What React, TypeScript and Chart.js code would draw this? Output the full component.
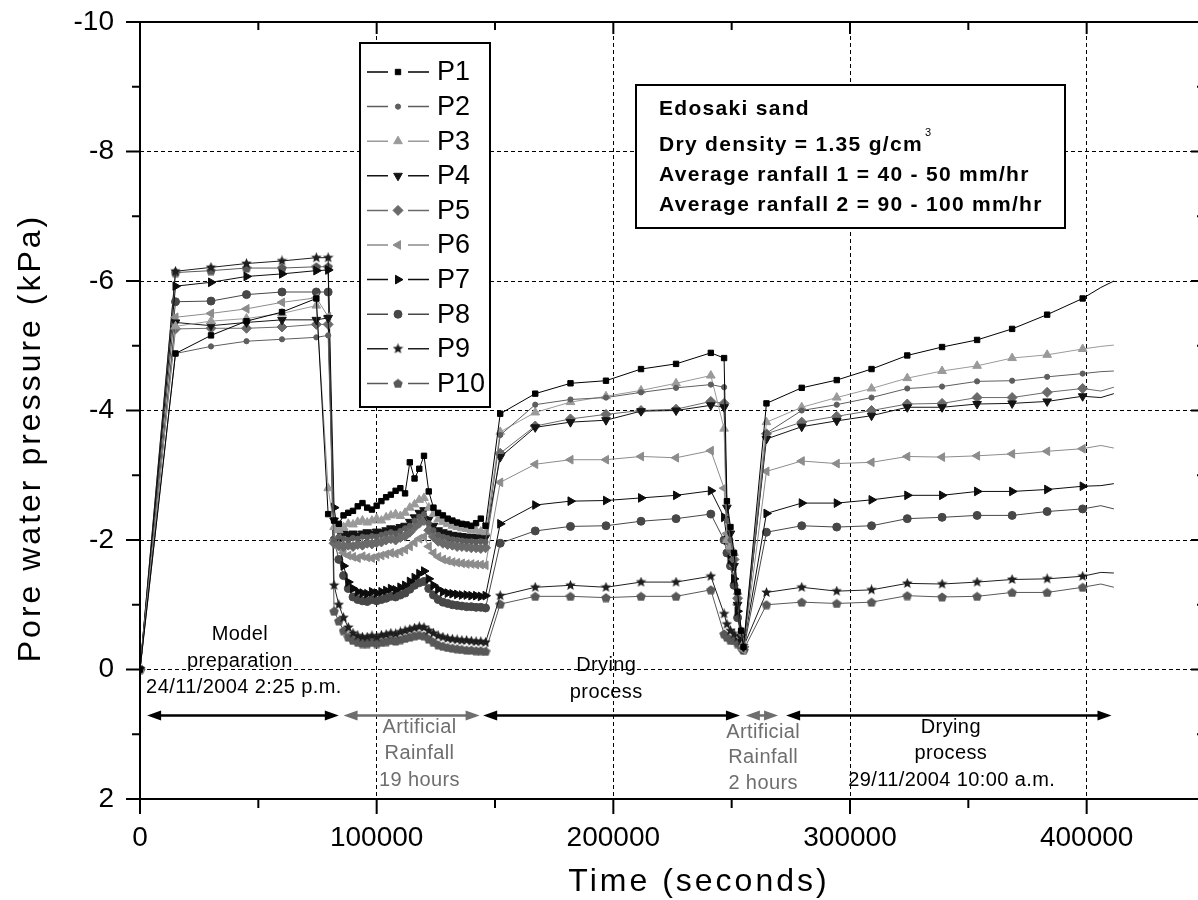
import React, { useEffect, useRef } from 'react';
import { Chart, registerables } from 'chart.js';
import { drawPoint } from 'chart.js/helpers';

Chart.register(...registerables);

// ---------- time stamps (seconds) ----------
const T_PREP = [0, 15000, 30000, 45000, 60000, 74500, 79500];
const T_RAIN1 = [82000, 84000, 86000, 88000, 90000, 92000, 94000, 96000, 98000, 100000, 102000, 104000, 106000, 108000, 110000, 112000, 114000, 116000, 118000, 120000, 122000, 124000, 126000, 128000, 130000, 132000, 134000, 136000, 138000, 140000, 142000, 144000, 146000];
const T_DRY1 = [152200, 167000, 181900, 196900, 211700, 226500, 241200, 246800];
const T_RAIN2 = [248000, 249500, 251000, 252500, 254000, 255000];
const T_DRY2 = [264700, 279600, 294400, 309100, 324200, 338900, 353700, 368500, 383300, 398300, 406000, 411500];
const TIME = [...T_PREP, ...T_RAIN1, ...T_DRY1, ...T_RAIN2, ...T_DRY2];
const TAIL_POINTS = 2; // last points drawn without symbols

// ---------- pore water pressure (kPa) ----------
const P1 = [
  0, -4.88, -5.16, -5.38, -5.52, -5.73, -2.4,
  -2.3, -2.25, -2.38, -2.42, -2.45, -2.52, -2.57, -2.5, -2.47, -2.53, -2.6, -2.66, -2.7, -2.76, -2.8, -2.72, -3.2, -2.95, -3.1, -3.3, -2.75, -2.5, -2.42, -2.38, -2.33, -2.3, -2.27, -2.25, -2.24, -2.22, -2.26, -2.33, -2.22,
  -3.95, -4.26, -4.42, -4.46, -4.64, -4.72, -4.89, -4.81,
  -2.6, -2.2, -1.8, -1.2, -0.6, -0.35,
  -4.11, -4.35, -4.47, -4.64, -4.85, -4.98, -5.09, -5.26, -5.48, -5.73, -5.9, -6.0,
];
const P2 = [
  0, -4.88, -4.99, -5.07, -5.1, -5.13, -5.16,
  -2.0, -2.05, -2.02, -2.0, -2.03, -2.02, -2.05, -2.04, -2.06, -2.05, -2.08, -2.1, -2.12, -2.1, -2.14, -2.18, -2.22, -2.3, -2.36, -2.4, -2.26, -2.15, -2.08, -2.05, -2.03, -2.01, -2.0, -1.99, -1.98, -1.98, -1.97, -1.98, -1.97,
  -3.62, -4.09, -4.17, -4.2, -4.28, -4.35, -4.4, -4.36,
  -2.3, -2.0, -1.7, -1.1, -0.55, -0.35,
  -3.65, -4.0, -4.09, -4.2, -4.34, -4.37, -4.45, -4.46, -4.52, -4.57, -4.6, -4.61,
];
const P3 = [
  0, -5.3, -5.38, -5.42, -5.5, -5.62, -2.8,
  -2.2, -2.15, -2.2, -2.25, -2.24, -2.28, -2.3, -2.27, -2.3, -2.33, -2.3, -2.35, -2.38, -2.4, -2.37, -2.42, -2.5, -2.55, -2.62, -2.65, -2.5, -2.4, -2.32, -2.28, -2.25, -2.22, -2.2, -2.18, -2.17, -2.15, -2.15, -2.13, -2.12,
  -3.67, -3.97, -4.13, -4.22, -4.31, -4.42, -4.54, -3.72,
  -2.0, -1.9, -1.8, -1.2, -0.6, -0.4,
  -3.82, -4.05, -4.2, -4.34, -4.5, -4.61, -4.69, -4.81, -4.86, -4.95, -4.99, -5.01,
];
const P4 = [
  0, -5.36, -5.31, -5.36, -5.4, -5.4, -5.43,
  -2.3, -2.15, -2.1, -2.08, -2.1, -2.07, -2.1, -2.12, -2.1, -2.13, -2.12, -2.15, -2.18, -2.17, -2.2, -2.22, -2.28, -2.35, -2.42, -2.46, -2.32, -2.22, -2.15, -2.12, -2.1, -2.08, -2.07, -2.06, -2.05, -2.05, -2.04, -2.05, -2.04,
  -3.28, -3.74, -3.82, -3.85, -3.99, -4.0, -4.08, -4.05,
  -2.5, -2.1, -1.6, -1.0, -0.5, -0.35,
  -3.56, -3.75, -3.84, -3.92, -4.05, -4.05, -4.1, -4.11, -4.14, -4.22, -4.2, -4.26,
];
const P5 = [
  0, -5.26, -5.27, -5.27, -5.29, -5.33, -5.33,
  -1.95, -1.92, -1.9, -1.92, -1.9, -1.93, -1.92, -1.95, -1.94, -1.96, -1.97, -2.0, -2.02, -2.0, -2.04, -2.06, -2.12, -2.2, -2.26, -2.3, -2.15, -2.05, -1.98, -1.95, -1.93, -1.92, -1.9, -1.9, -1.89, -1.88, -1.88, -1.87, -1.88,
  -3.34, -3.76, -3.87, -3.94, -4.0, -4.02, -4.14, -4.11,
  -2.0, -1.85, -1.7, -1.1, -0.55, -0.35,
  -3.64, -3.82, -3.91, -4.0, -4.1, -4.11, -4.2, -4.2, -4.28, -4.34, -4.3, -4.36,
];
const P6 = [
  0, -5.44, -5.5, -5.57, -5.67, -5.74, -5.45,
  -2.0, -1.88, -1.8, -1.76, -1.74, -1.72, -1.75, -1.73, -1.72, -1.74, -1.76, -1.78, -1.8, -1.79, -1.82, -1.85, -1.9, -1.96, -2.02, -2.05, -1.9, -1.8, -1.74, -1.7, -1.68, -1.66, -1.65, -1.64, -1.63, -1.63, -1.62, -1.62, -1.61,
  -2.89, -3.17, -3.24, -3.24, -3.29, -3.27, -3.38, -2.8,
  -2.1, -1.9, -1.6, -1.0, -0.5, -0.3,
  -3.06, -3.22, -3.18, -3.2, -3.29, -3.28, -3.3, -3.33, -3.37, -3.41, -3.46, -3.42,
];
const P7 = [
  0, -5.92, -5.98, -6.07, -6.11, -6.16, -6.17,
  -2.5, -2.0, -1.6, -1.35, -1.25, -1.2, -1.18, -1.17, -1.2, -1.18, -1.2, -1.22, -1.25, -1.23, -1.27, -1.3, -1.36, -1.42, -1.48, -1.52, -1.4, -1.3, -1.24, -1.2, -1.18, -1.17, -1.16, -1.15, -1.15, -1.14, -1.14, -1.13, -1.14,
  -2.25, -2.54, -2.6, -2.61, -2.65, -2.69, -2.76, -2.35,
  -2.0, -1.7, -1.4, -0.9, -0.5, -0.35,
  -2.41, -2.57, -2.57, -2.62, -2.69, -2.69, -2.75, -2.75, -2.78, -2.83, -2.84, -2.87,
];
const P8 = [
  0, -5.68, -5.69, -5.79, -5.83, -5.83, -5.83,
  -2.0, -1.7, -1.45, -1.25, -1.12, -1.08, -1.06, -1.05, -1.08, -1.06, -1.08, -1.1, -1.13, -1.12, -1.15, -1.18, -1.24, -1.3, -1.34, -1.36, -1.25, -1.15, -1.08, -1.04, -1.02, -1.0, -0.99, -0.98, -0.97, -0.97, -0.96, -0.96, -0.95,
  -1.95, -2.14, -2.21, -2.22, -2.29, -2.33, -2.4, -2.0,
  -1.8, -1.6, -1.3, -0.8, -0.5, -0.3,
  -2.12, -2.22, -2.2, -2.22, -2.33, -2.35, -2.38, -2.38, -2.44, -2.48, -2.53, -2.48,
];
const P9 = [
  0, -6.15, -6.21, -6.27, -6.31, -6.36, -6.36,
  -1.3, -1.0, -0.8, -0.65, -0.56, -0.52, -0.5, -0.5, -0.52, -0.5, -0.53, -0.54, -0.56, -0.55, -0.58, -0.6, -0.62, -0.64, -0.66, -0.65, -0.6, -0.56, -0.52, -0.5, -0.48, -0.47, -0.46, -0.45, -0.45, -0.44, -0.43, -0.43, -0.42,
  -1.14, -1.27, -1.3, -1.27, -1.35, -1.35, -1.44, -0.86,
  -0.7, -0.6, -0.55, -0.5, -0.45, -0.35,
  -1.19, -1.27, -1.21, -1.23, -1.33, -1.32, -1.35, -1.39, -1.4, -1.44, -1.5, -1.49,
];
const P10 = [
  0, -6.13, -6.16, -6.2, -6.2, -6.22, -6.22,
  -0.9, -0.75, -0.6, -0.5, -0.45, -0.42, -0.4, -0.4, -0.42, -0.4, -0.42, -0.43, -0.45, -0.44, -0.46, -0.48, -0.5, -0.52, -0.53, -0.52, -0.47, -0.42, -0.38, -0.36, -0.34, -0.33, -0.32, -0.31, -0.3, -0.3, -0.29, -0.29, -0.28,
  -1.01, -1.13, -1.13, -1.11, -1.13, -1.13, -1.23, -0.55,
  -0.5, -0.45, -0.45, -0.4, -0.35, -0.3,
  -1.0, -1.04, -1.02, -1.04, -1.14, -1.12, -1.13, -1.19, -1.19, -1.27, -1.32, -1.27,
];
const SERIES_VALUES = [P1, P2, P3, P4, P5, P6, P7, P8, P9, P10];
const SERIES_LABELS = ['P1', 'P2', 'P3', 'P4', 'P5', 'P6', 'P7', 'P8', 'P9', 'P10'];

// ---------- styles ----------
const SERIES_COLORS = ['#000000', '#5e5e5e', '#9a9a9a', '#141414', '#6a6a6a', '#8c8c8c', '#0c0c0c', '#474747', '#1e1e1e', '#585858'];
const SERIES_SHAPES = ['rect', 'circle', 'triangle', 'triangle', 'rectRot', 'triangle', 'triangle', 'circle', 'star5', 'pentagon'];
const SERIES_ROTATION = [0, 0, 0, 180, 0, -90, 90, 0, 0, 0];
const SERIES_RADIUS = [3.8, 2.6, 5, 5, 5, 5, 5, 4, 6, 5];

// ---------- axis ticks ----------
const X_MIN = 0, X_MAX = 450000, X_MINOR = 50000, X_MAJOR = 100000;
const Y_MIN = -10, Y_MAX = 2, Y_MINOR = 1, Y_MAJOR = 2;

// ---------- annotations (data units) ----------
const ARROW_LEVEL = 0.71;
const ARROW_STARTS = [3000, 86000, 145000, 256000, 273000];
const ARROW_ENDS = [84000, 143500, 253500, 269600, 410500];
const ARROW_COLORS = ['#000000', '#6e6e6e', '#000000', '#6e6e6e', '#000000'];
const NOTE_TEXTS = ['Model', 'preparation', '24/11/2004 2:25 p.m.', 'Drying', 'process', 'Artificial', 'Rainfall', '19 hours', 'Artificial', 'Rainfall', '2 hours', 'Drying', 'process', '29/11/2004 10:00 a.m.'];
const NOTE_X = [42200, 42200, 43900, 197000, 197000, 118100, 118100, 118100, 263300, 263300, 263300, 342600, 342600, 343000];
const NOTE_Y = [-0.54, -0.12, 0.28, -0.06, 0.36, 0.9, 1.3, 1.71, 0.97, 1.36, 1.76, 0.9, 1.3, 1.71];
const NOTE_COLORS = ['#000', '#000', '#000', '#000', '#000', '#6e6e6e', '#6e6e6e', '#6e6e6e', '#6e6e6e', '#6e6e6e', '#6e6e6e', '#000', '#000', '#000'];
const INFO_LINES = ['Edosaki sand', 'Dry density = 1.35 g/cm', 'Average ranfall 1 = 40 - 50 mm/hr', 'Average ranfall 2 = 90 - 100 mm/hr'];
const X_TITLE = 'Time (seconds)';
const Y_TITLE = 'Pore water pressure (kPa)';

const FONT = "'Liberation Sans', Arial, sans-serif";
// canvas is slightly larger than the window; it is shifted so the plot frame lands where the reference has it
const CANVAS_W = 1229;
const CANVAS_H = 922;
const CANVAS_SHIFT_Y = -22;
const PAGE_LEFT = 140; // page x of the plot's left edge
const PAGE_TOP = 22; // page y of the plot's top edge

function makeMarker(kind: string, color: string, size: number) {
  const c = document.createElement('canvas');
  c.width = size;
  c.height = size;
  const g = c.getContext('2d')!;
  g.fillStyle = color;
  g.beginPath();
  const cx = size / 2, cy = size / 2, R = size / 2;
  if (kind === 'star5') {
    for (let i = 0; i < 10; i++) {
      const a = -Math.PI / 2 + (i * Math.PI) / 5;
      const r = i % 2 === 0 ? R : R * 0.45;
      g.lineTo(cx + r * Math.cos(a), cy + r * Math.sin(a));
    }
  } else {
    for (let i = 0; i < 5; i++) {
      const a = -Math.PI / 2 + (i * 2 * Math.PI) / 5;
      g.lineTo(cx + R * Math.cos(a), cy + R * Math.sin(a) + 0.5);
    }
  }
  g.closePath();
  g.fill();
  return c;
}

function setSpacing(ctx: any, v: string) {
  try { ctx.letterSpacing = v; } catch (e) { /* ignore */ }
}

function drawArrow(ctx: CanvasRenderingContext2D, x1: number, x2: number, y: number, color: string) {
  const L = 14, H = 5;
  ctx.strokeStyle = color;
  ctx.fillStyle = color;
  ctx.lineWidth = 2.5;
  ctx.beginPath();
  ctx.moveTo(x1 + 4, y);
  ctx.lineTo(x2 - 4, y);
  ctx.stroke();
  ctx.beginPath();
  ctx.moveTo(x1, y);
  ctx.lineTo(x1 + L, y - H);
  ctx.lineTo(x1 + L, y + H);
  ctx.closePath();
  ctx.fill();
  ctx.beginPath();
  ctx.moveTo(x2, y);
  ctx.lineTo(x2 - L, y - H);
  ctx.lineTo(x2 - L, y + H);
  ctx.closePath();
  ctx.fill();
}

const overlayPlugin = {
  id: 'overlay',
  afterDraw(chart: any) {
    const { ctx, chartArea: a } = chart;
    const xs = chart.scales.x;
    const ys = chart.scales.y;
    // page -> canvas offsets
    const ox = a.left - PAGE_LEFT;
    const oy = a.top - PAGE_TOP;
    ctx.save();

    // frame
    ctx.strokeStyle = '#000';
    ctx.lineWidth = 2;
    ctx.strokeRect(a.left, a.top, a.right - a.left, a.bottom - a.top);

    // tick marks
    ctx.lineWidth = 2;
    ctx.beginPath();
    for (let v = X_MIN; v <= X_MAX; v += X_MINOR) {
      const px = xs.getPixelForValue(v);
      const major = v % X_MAJOR === 0;
      ctx.moveTo(px, a.bottom);
      ctx.lineTo(px, a.bottom + (major ? 15 : 9));
      ctx.moveTo(px, a.top);
      ctx.lineTo(px, a.top + (major ? 12 : 8));
    }
    for (let v = Y_MIN; v <= Y_MAX; v += Y_MINOR) {
      const py = ys.getPixelForValue(v);
      const major = v % Y_MAJOR === 0;
      ctx.moveTo(a.left, py);
      ctx.lineTo(a.left - (major ? 14 : 8), py);
      ctx.moveTo(a.right, py);
      ctx.lineTo(a.right - (major ? 14 : 8), py);
    }
    ctx.stroke();

    // phase arrows
    const ay = ys.getPixelForValue(ARROW_LEVEL);
    ARROW_STARTS.forEach((s, i) => {
      drawArrow(ctx, xs.getPixelForValue(s), xs.getPixelForValue(ARROW_ENDS[i]), ay, ARROW_COLORS[i]);
    });

    // phase notes
    ctx.font = `20px ${FONT}`;
    ctx.textAlign = 'center';
    ctx.textBaseline = 'middle';
    setSpacing(ctx, '0.4px');
    NOTE_TEXTS.forEach((t, i) => {
      ctx.fillStyle = NOTE_COLORS[i];
      ctx.fillText(t, xs.getPixelForValue(NOTE_X[i]), ys.getPixelForValue(NOTE_Y[i]));
    });
    setSpacing(ctx, '0px');

    // legend box
    const lg = { l: 360 + ox, t: 43 + oy, r: 490 + ox, b: 407 + oy };
    ctx.fillStyle = '#fff';
    ctx.fillRect(lg.l, lg.t, lg.r - lg.l, lg.b - lg.t);
    ctx.strokeStyle = '#000';
    ctx.lineWidth = 2;
    ctx.strokeRect(lg.l, lg.t, lg.r - lg.l, lg.b - lg.t);
    chart.data.datasets.forEach((ds: any, i: number) => {
      const yy = 72 + oy + i * 34.6;
      ctx.strokeStyle = ds.borderColor;
      ctx.lineWidth = 1.5;
      ctx.beginPath();
      ctx.moveTo(367 + ox, yy);
      ctx.lineTo(388 + ox, yy);
      ctx.moveTo(408 + ox, yy);
      ctx.lineTo(429 + ox, yy);
      ctx.stroke();
      ctx.fillStyle = ds.pointBackgroundColor;
      ctx.strokeStyle = ds.pointBorderColor;
      ctx.lineWidth = 1;
      drawPoint(ctx, { pointStyle: ds.pointStyle, rotation: ds.pointRotation, radius: SERIES_RADIUS[i], borderWidth: 1 }, 398 + ox, yy);
      ctx.fillStyle = '#000';
      ctx.font = `27px ${FONT}`;
      ctx.textAlign = 'left';
      ctx.textBaseline = 'middle';
      ctx.fillText(ds.label, 437 + ox, yy + 1);
    });

    // info box
    const ib = { l: 636 + ox, t: 85 + oy, r: 1065 + ox, b: 228 + oy };
    ctx.fillStyle = '#fff';
    ctx.fillRect(ib.l, ib.t, ib.r - ib.l, ib.b - ib.t);
    ctx.strokeStyle = '#000';
    ctx.lineWidth = 2;
    ctx.strokeRect(ib.l, ib.t, ib.r - ib.l, ib.b - ib.t);
    ctx.fillStyle = '#000';
    ctx.font = `bold 21px ${FONT}`;
    ctx.textAlign = 'left';
    ctx.textBaseline = 'middle';
    setSpacing(ctx, '1.3px');
    const infoY = [109, 145, 175, 205];
    INFO_LINES.forEach((t, i) => {
      ctx.fillText(t, 659 + ox, infoY[i] + oy);
      if (i === 1) {
        const w = ctx.measureText(t).width;
        ctx.font = `11px ${FONT}`;
        ctx.fillText('3', 659 + ox + w + 2, infoY[i] + oy - 12);
        ctx.font = `bold 21px ${FONT}`;
      }
    });
    setSpacing(ctx, '0px');

    // axis titles
    ctx.fillStyle = '#000';
    ctx.font = `32px ${FONT}`;
    ctx.textAlign = 'center';
    ctx.textBaseline = 'middle';
    setSpacing(ctx, '3px');
    ctx.fillText(X_TITLE, 699 + ox, 882 + oy);
    ctx.save();
    ctx.translate(31 + ox, 438 + oy);
    ctx.rotate(-Math.PI / 2);
    ctx.fillText(Y_TITLE, 0, 0);
    ctx.restore();
    setSpacing(ctx, '0px');

    ctx.restore();
  },
};

export default function App() {
  const ref = useRef<HTMLCanvasElement>(null);
  useEffect(() => {
    const canvas = ref.current;
    if (!canvas) return;
    const datasets = SERIES_LABELS.map((label, i) => {
      const shape = SERIES_SHAPES[i];
      const style: any =
        shape === 'star5' ? makeMarker('star5', SERIES_COLORS[i], 11) :
        shape === 'pentagon' ? makeMarker('pentagon', SERIES_COLORS[i], 10) : shape;
      return {
        label,
        data: TIME.map((t, k) => ({ x: t, y: SERIES_VALUES[i][k] })),
        borderColor: SERIES_COLORS[i],
        backgroundColor: SERIES_COLORS[i],
        pointBackgroundColor: SERIES_COLORS[i],
        pointBorderColor: SERIES_COLORS[i],
        borderWidth: 1,
        pointBorderWidth: 1,
        pointStyle: style,
        pointRotation: SERIES_ROTATION[i],
        pointRadius: (c: any) => (c.dataIndex >= TIME.length - TAIL_POINTS ? 0 : SERIES_RADIUS[i]),
        pointHoverRadius: 0,
        fill: false,
        tension: 0,
      };
    });
    const chart = new Chart(canvas, {
      type: 'line',
      data: { datasets } as any,
      options: {
        animation: false,
        responsive: false,
        devicePixelRatio: 1,
        events: [],
        layout: { padding: { left: 0, top: 44, right: 24, bottom: 0 } },
        plugins: { legend: { display: false }, tooltip: { enabled: false } },
        scales: {
          x: {
            type: 'linear',
            min: X_MIN,
            max: X_MAX,
            afterFit: (s: any) => { s.height = 101; },
            ticks: {
              stepSize: X_MINOR,
              autoSkip: false,
              maxRotation: 0,
              padding: 22,
              color: '#000',
              font: { family: FONT, size: 28 },
              callback: (v: any) => (v % X_MAJOR === 0 && v < X_MAX ? String(v) : ''),
            },
            grid: {
              drawTicks: false,
              lineWidth: 1,
              color: (c: any) => (c.tick && c.tick.value % X_MAJOR === 0 && c.tick.value > X_MIN && c.tick.value < X_MAX ? '#000' : 'rgba(0,0,0,0)'),
            },
            border: { display: false, dash: [4, 3] },
          },
          y: {
            type: 'linear',
            min: Y_MIN,
            max: Y_MAX,
            reverse: true,
            afterFit: (s: any) => { s.width = 140; },
            ticks: {
              stepSize: Y_MINOR,
              autoSkip: false,
              padding: 26,
              color: '#000',
              font: { family: FONT, size: 28 },
              callback: (v: any) => (v % Y_MAJOR === 0 ? String(v) : ''),
            },
            grid: {
              drawTicks: false,
              lineWidth: 1,
              color: (c: any) => (c.tick && c.tick.value % Y_MAJOR === 0 && c.tick.value > Y_MIN && c.tick.value < Y_MAX ? '#000' : 'rgba(0,0,0,0)'),
            },
            border: { display: false, dash: [4, 3] },
          },
        },
      } as any,
      plugins: [overlayPlugin],
    });
    return () => chart.destroy();
  }, []);
  return (
    <div style={{ position: 'fixed', left: 0, top: 0, width: 1198, height: 900, overflow: 'hidden', background: '#fff' }}>
      <canvas ref={ref} width={CANVAS_W} height={CANVAS_H} style={{ display: 'block', width: CANVAS_W, height: CANVAS_H, marginTop: CANVAS_SHIFT_Y }} />
    </div>
  );
}
